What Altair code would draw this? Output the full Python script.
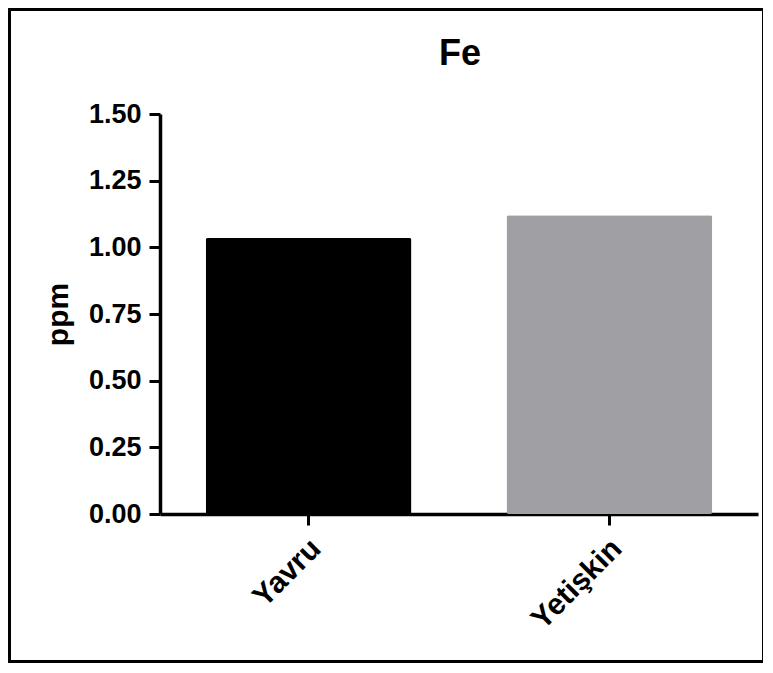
import altair as alt
import pandas as pd

groups = ["Yavru", "Yetişkin"]
values = [1.035, 1.12]
colors = ["#000000", "#a0a0a4"]
y_ticks = [0.0, 0.25, 0.5, 0.75, 1.0, 1.25, 1.5]
title_text = "Fe"

df = pd.DataFrame({"group": groups, "value": values})
one_df = pd.DataFrame({"title": [title_text]})

FONT = "Liberation Sans"
W, H = 598, 400

bars = alt.Chart(df).mark_bar(cornerRadius=2).encode(
    x=alt.X(
        "group:N",
        sort=groups,
        scale=alt.Scale(paddingInner=0.316, paddingOuter=0.152),
        axis=alt.Axis(
            title=None,
            labelAngle=-45,
            labelAlign="right",
            labelBaseline="top",
            labelPadding=8,
            labelOffset=-3,
            labelFontSize=30,
        ),
    ),
    y=alt.Y(
        "value:Q",
        scale=alt.Scale(domain=[0, 1.5]),
        axis=alt.Axis(
            values=y_ticks,
            format=".2f",
            title="ppm",
            titlePadding=15,
            labelPadding=8,
        ),
    ),
    color=alt.Color(
        "group:N",
        scale=alt.Scale(domain=groups, range=colors),
        legend=None,
    ),
)

frame = alt.Chart(one_df).mark_rect(
    filled=False, stroke="black", strokeWidth=3, clip=False
).encode(
    x=alt.value(-150.5),
    x2=alt.value(603.5),
    y=alt.value(-104.5),
    y2=alt.value(547.5),
)

title = alt.Chart(one_df).mark_text(
    font=FONT, fontSize=36, fontWeight="bold", color="black",
    align="center", baseline="alphabetic",
).encode(
    text="title:N",
    x=alt.value(300),
    y=alt.value(-49),
)

chart = (
    alt.layer(frame, bars, title)
    .properties(
        width=W,
        height=H,
        autosize=alt.AutoSizeParams(type="none"),
        padding={"left": 152, "top": 106, "right": 5, "bottom": 149},
    )
    .configure_view(stroke=None)
    .configure_axis(
        grid=False,
        domainColor="black",
        domainWidth=3.5,
        tickColor="black",
        tickWidth=3,
        tickSize=11,
        labelFont=FONT,
        labelFontSize=27,
        labelFontWeight="bold",
        labelColor="black",
        titleFont=FONT,
        titleFontSize=30,
        titleFontWeight="bold",
        titleColor="black",
    )
)

chart.save("out.html", embed_options={"renderer": "svg", "actions": False})
